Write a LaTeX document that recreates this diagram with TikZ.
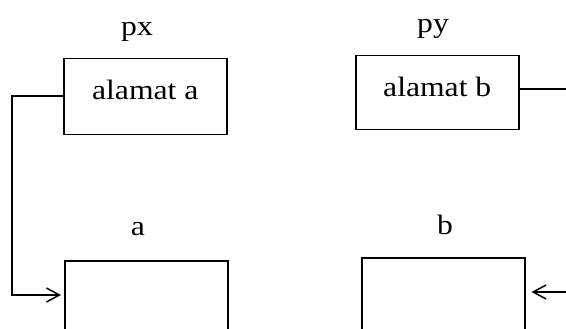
\documentclass[tikz,border=0pt]{standalone}
\usepackage{fontspec}
\setmainfont{Liberation Serif}
\usetikzlibrary{arrows.meta}
\newcommand{\wide}[1]{\scalebox{1.13}[1]{#1}}
\begin{document}
\begin{tikzpicture}[x=1pt, y=-1pt, >={Straight Barb[length=13pt,width=14pt]},
    every node/.style={font=\fontsize{28}{33}\selectfont},
    ptrbox/.style={draw, line width=1.5pt, anchor=north west, minimum width=163pt,
        inner xsep=0pt, inner ysep=0pt, text height=41pt},
    membox/.style={draw, line width=1.5pt, anchor=north west, minimum width=163pt,
        minimum height=140pt},
    link/.style={line width=1.5pt}]
\useasboundingbox (0,0) rectangle (566,329);
\clip (0,0) rectangle (566,329);
% pointer boxes
\node[ptrbox, text depth=35pt] (px) at (63,58) {\wide{alamat a}};
\node[ptrbox, text depth=33pt] (py) at (355,55) {\wide{alamat b}};
\node[anchor=base] (lpx) at (137,36) {\wide{px}};
\node[anchor=base] (lpy) at (433,33) {\wide{py}};
% variables
\node[membox] (a) at (64,260) {};
\node[membox] (b) at (361,257) {};
\node[anchor=base] (la) at (138,236) {\wide{a}};
\node[anchor=base] (lb) at (445,234) {\wide{b}};
% links
\coordinate (outb) at (566,89);
\coordinate (inb) at (566,292);
\draw[link,->] (px.west|-0,96)--(12,96)--(12,295)--([xshift=-3pt]a.west|-0,295);
\draw[link] (py.east|-0,89)--(outb);
\draw[link,->] (inb)--([xshift=6pt]b.east|-inb);
\end{tikzpicture}
\end{document}
